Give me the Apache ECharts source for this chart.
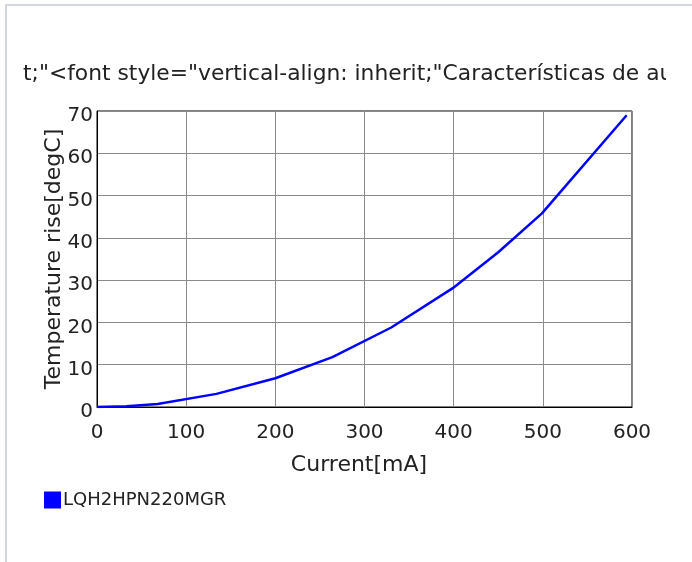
<!DOCTYPE html>
<html>
<head>
<meta charset="utf-8">
<script src="https://cdn.jsdelivr.net/npm/echarts@6/dist/echarts.min.js"></script>
<style>
html,body{margin:0;padding:0;background:#fff;}
#wrap{position:relative;width:692px;height:562px;overflow:hidden;background:#fff;}
#top{position:absolute;left:5px;top:4px;width:687px;height:2px;background:#d3d7db;}
#left{position:absolute;left:5px;top:4px;width:2px;height:558px;background:#d3d7db;}
#chart{position:absolute;left:0;top:0;width:666px;height:562px;}
</style>
</head>
<body>
<div id="wrap"><div id="chart"></div><div id="top"></div><div id="left"></div></div>
<script>
const titleText = 't;"<font style="vertical-align: inherit;"Características de autocalentamiento';
const xName = 'Current[mA]';
const yName = 'Temperature rise[degC]';
const seriesName = 'LQH2HPN220MGR';
const currentMA = [0, 33, 68, 134, 200, 264, 330, 399, 450, 499, 594];
const tempRise = [0, 0.2, 0.7, 3.1, 6.8, 11.8, 18.8, 28.1, 36.6, 45.8, 69.0];
const xTicks = {min: 0, max: 600, interval: 100};
const yTicks = {min: 0, max: 70, interval: 10};

const font = 'DejaVu Sans';
const chart = echarts.init(document.getElementById('chart'), null, {renderer: 'canvas'});
chart.setOption({
  animation: false,
  backgroundColor: 'transparent',
  title: {
    text: titleText,
    left: 18, top: 58, padding: 5,
    textStyle: {fontFamily: font, fontSize: 21.8, fontWeight: 'normal', color: '#222'}
  },
  legend: {
    left: 44, top: 491, padding: 0,
    itemWidth: 17, itemHeight: 17,
    icon: 'rect',
    data: [{name: seriesName, icon: 'rect', itemStyle: {color: '#0000ff'}}],
    textStyle: {fontFamily: font, fontSize: 18, color: '#222', padding: [0, 0, 0, -3]}
  },
  grid: {
    left: 97, top: 111, width: 535, height: 296,
    show: true, borderColor: '#000', borderWidth: 1, backgroundColor: 'transparent'
  },
  xAxis: {
    type: 'value',
    min: xTicks.min, max: xTicks.max, interval: xTicks.interval,
    name: xName, nameLocation: 'middle', nameGap: 47, nameMoveOverlap: false,
    nameTextStyle: {fontFamily: font, fontSize: 22, color: '#222', padding: [0, 11, 0, 0]},
    axisLine: {show: true, lineStyle: {color: '#000', width: 1}},
    axisTick: {show: false},
    axisLabel: {fontFamily: font, fontSize: 20, color: '#222', margin: 16},
    splitLine: {show: true, lineStyle: {color: '#8a8a8a', width: 1}}
  },
  yAxis: {
    type: 'value',
    min: yTicks.min, max: yTicks.max, interval: yTicks.interval,
    name: yName, nameLocation: 'middle', nameGap: 32, nameRotate: 90, nameMoveOverlap: false,
    nameTextStyle: {fontFamily: font, fontSize: 22, color: '#222'},
    axisLine: {show: true, lineStyle: {color: '#000', width: 1}},
    axisTick: {show: false},
    axisLabel: {fontFamily: font, fontSize: 20, color: '#222', margin: 4, verticalAlign: 'top', lineHeight: 10},
    splitLine: {show: true, lineStyle: {color: '#8a8a8a', width: 1}}
  },
  series: [{
    name: seriesName,
    type: 'line',
    data: currentMA.map((x, i) => [x, tempRise[i]]),
    showSymbol: false,
    symbol: 'none',
    itemStyle: {color: '#0000ff'},
    lineStyle: {color: '#0000ff', width: 2.5}
  }]
});
</script>
</body>
</html>
